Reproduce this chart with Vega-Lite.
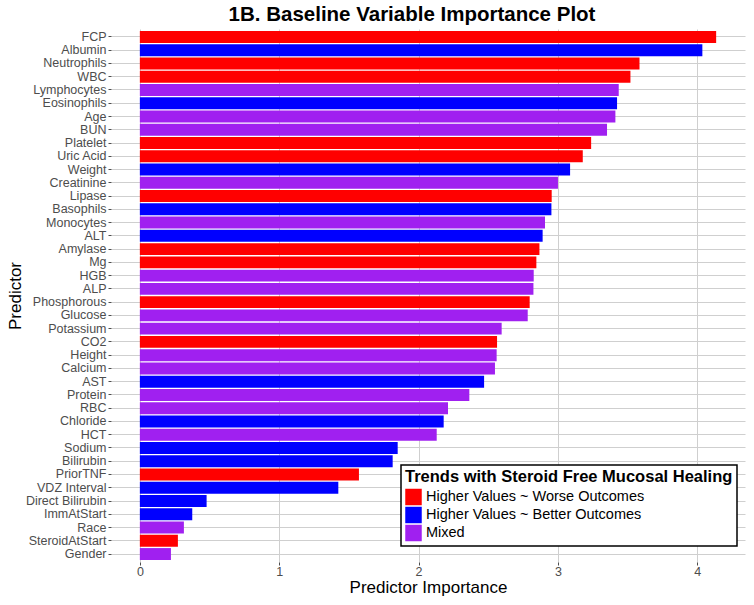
{
  "$schema": "https://vega.github.io/schema/vega-lite/v6.json",
  "width": 634,
  "height": 533,
  "autosize": {"type": "none"},
  "padding": {"left": 111, "top": 29, "right": 9, "bottom": 43},
  "background": "white",
  "title": {
    "text": "1B. Baseline Variable Importance Plot",
    "font": "Liberation Sans",
    "fontSize": 20.5,
    "fontWeight": "bold",
    "color": "black",
    "anchor": "middle",
    "dx": -16,
    "offset": 4
  },
  "config": {
    "view": {"stroke": null},
    "font": "Liberation Sans",
    "axis": {
      "labelFont": "Liberation Sans",
      "labelFontSize": 12.5,
      "labelColor": "#4d4d4d",
      "titleFont": "Liberation Sans",
      "titleFontSize": 17,
      "titleFontWeight": "normal",
      "titleColor": "black",
      "tickColor": "#4d4d4d",
      "tickSize": 3,
      "gridColor": "#cfcfcf",
      "gridWidth": 1,
      "domain": false
    }
  },
  "data": {
    "values": [
      {"predictor": "FCP", "importance": 4.135, "trend": "Higher Values ~ Worse Outcomes"},
      {"predictor": "Albumin", "importance": 4.036, "trend": "Higher Values ~ Better Outcomes"},
      {"predictor": "Neutrophils", "importance": 3.585, "trend": "Higher Values ~ Worse Outcomes"},
      {"predictor": "WBC", "importance": 3.52, "trend": "Higher Values ~ Worse Outcomes"},
      {"predictor": "Lymphocytes", "importance": 3.436, "trend": "Mixed"},
      {"predictor": "Eosinophils", "importance": 3.424, "trend": "Higher Values ~ Better Outcomes"},
      {"predictor": "Age", "importance": 3.412, "trend": "Mixed"},
      {"predictor": "BUN", "importance": 3.352, "trend": "Mixed"},
      {"predictor": "Platelet", "importance": 3.238, "trend": "Higher Values ~ Worse Outcomes"},
      {"predictor": "Uric Acid", "importance": 3.178, "trend": "Higher Values ~ Worse Outcomes"},
      {"predictor": "Weight", "importance": 3.087, "trend": "Higher Values ~ Better Outcomes"},
      {"predictor": "Creatinine", "importance": 3.0, "trend": "Mixed"},
      {"predictor": "Lipase", "importance": 2.955, "trend": "Higher Values ~ Worse Outcomes"},
      {"predictor": "Basophils", "importance": 2.953, "trend": "Higher Values ~ Better Outcomes"},
      {"predictor": "Monocytes", "importance": 2.907, "trend": "Mixed"},
      {"predictor": "ALT", "importance": 2.89, "trend": "Higher Values ~ Better Outcomes"},
      {"predictor": "Amylase", "importance": 2.867, "trend": "Higher Values ~ Worse Outcomes"},
      {"predictor": "Mg", "importance": 2.845, "trend": "Higher Values ~ Worse Outcomes"},
      {"predictor": "HGB", "importance": 2.826, "trend": "Mixed"},
      {"predictor": "ALP", "importance": 2.824, "trend": "Mixed"},
      {"predictor": "Phosphorous", "importance": 2.797, "trend": "Higher Values ~ Worse Outcomes"},
      {"predictor": "Glucose", "importance": 2.783, "trend": "Mixed"},
      {"predictor": "Potassium", "importance": 2.596, "trend": "Mixed"},
      {"predictor": "CO2", "importance": 2.563, "trend": "Higher Values ~ Worse Outcomes"},
      {"predictor": "Height", "importance": 2.56, "trend": "Mixed"},
      {"predictor": "Calcium", "importance": 2.548, "trend": "Mixed"},
      {"predictor": "AST", "importance": 2.47, "trend": "Higher Values ~ Better Outcomes"},
      {"predictor": "Protein", "importance": 2.364, "trend": "Mixed"},
      {"predictor": "RBC", "importance": 2.211, "trend": "Mixed"},
      {"predictor": "Chloride", "importance": 2.18, "trend": "Higher Values ~ Better Outcomes"},
      {"predictor": "HCT", "importance": 2.13, "trend": "Mixed"},
      {"predictor": "Sodium", "importance": 1.85, "trend": "Higher Values ~ Better Outcomes"},
      {"predictor": "Bilirubin", "importance": 1.814, "trend": "Higher Values ~ Better Outcomes"},
      {"predictor": "PriorTNF", "importance": 1.572, "trend": "Higher Values ~ Worse Outcomes"},
      {"predictor": "VDZ Interval", "importance": 1.424, "trend": "Higher Values ~ Better Outcomes"},
      {"predictor": "Direct Bilirubin", "importance": 0.479, "trend": "Higher Values ~ Better Outcomes"},
      {"predictor": "ImmAtStart", "importance": 0.376, "trend": "Higher Values ~ Better Outcomes"},
      {"predictor": "Race", "importance": 0.316, "trend": "Mixed"},
      {"predictor": "SteroidAtStart", "importance": 0.273, "trend": "Higher Values ~ Worse Outcomes"},
      {"predictor": "Gender", "importance": 0.223, "trend": "Mixed"}
    ]
  },
  "mark": {"type": "bar"},
  "encoding": {
    "y": {
      "field": "predictor",
      "type": "nominal",
      "sort": null,
      "title": "Predictor",
      "scale": {"paddingInner": 0.1, "paddingOuter": 0.15},
      "axis": {"grid": true, "bandPosition": 0.5, "labelPadding": 2, "titlePadding": 1}
    },
    "x": {
      "field": "importance",
      "type": "quantitative",
      "title": "Predictor Importance",
      "scale": {"domain": [-0.207, 4.342], "nice": false, "zero": false},
      "axis": {"values": [0, 1, 2, 3, 4], "grid": true, "labelPadding": 0, "titlePadding": 2}
    },
    "x2": {"datum": 0},
    "color": {
      "field": "trend",
      "type": "nominal",
      "title": "Trends with Steroid Free Mucosal Healing",
      "scale": {
        "domain": ["Higher Values ~ Worse Outcomes", "Higher Values ~ Better Outcomes", "Mixed"],
        "range": ["#FF0000", "#0000FF", "#A020F0"]
      },
      "legend": {
        "orient": "none",
        "legendX": 290,
        "legendY": 436,
        "direction": "vertical",
        "fillColor": "white",
        "strokeColor": "black",
        "padding": 4,
        "titleFont": "Liberation Sans",
        "titleFontSize": 16.5,
        "titleFontWeight": "bold",
        "titleColor": "black",
        "titlePadding": 3,
        "titleLimit": 400,
        "labelFont": "Liberation Sans",
        "labelFontSize": 14.5,
        "labelColor": "black",
        "labelOffset": 4,
        "labelLimit": 400,
        "symbolType": "square",
        "symbolSize": 272,
        "symbolStrokeWidth": 0,
        "symbolOpacity": 1,
        "rowPadding": 1,
        "encode": {"legend": {"update": {"strokeWidth": {"value": 1.5}}}}
      }
    }
  }
}
